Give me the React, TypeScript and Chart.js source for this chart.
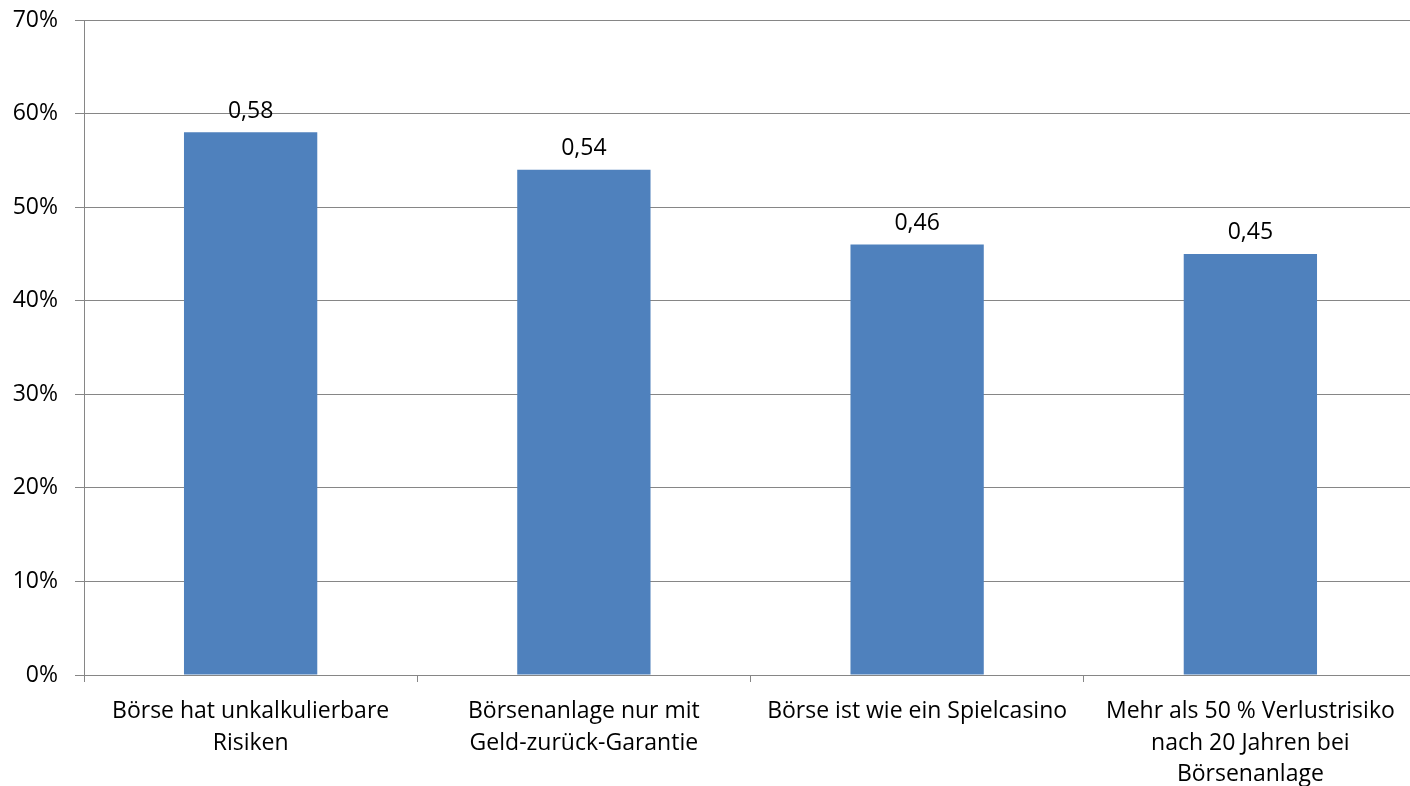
import React, { useEffect, useRef } from "react";
import { Chart, registerables } from "chart.js";

Chart.register(...registerables);

const categories: (string | string[])[] = [
  ["Börse hat unkalkulierbare", "Risiken"],
  ["Börsenanlage nur mit", "Geld-zurück-Garantie"],
  "Börse ist wie ein Spielcasino",
  ["Mehr als 50 % Verlustrisiko", "nach 20 Jahren bei", "Börsenanlage"],
];
const values: number[] = [0.58, 0.54, 0.46, 0.45];
const yTicksMin = 0;
const yTicksMax = 0.7;
const yTickStep = 0.1;

const FONT = "'Open Sans', sans-serif";
const FS = 23;
const GRID = "#868686";
const BAR = "#4F81BD";

const dataLabels = {
  id: "dataLabels",
  afterDatasetsDraw(chart: any) {
    const ctx = chart.ctx;
    const meta = chart.getDatasetMeta(0);
    ctx.save();
    ctx.font = `${FS}px ${FONT}`;
    ctx.fillStyle = "#000";
    ctx.textAlign = "center";
    ctx.textBaseline = "middle";
    meta.data.forEach((el: any, i: number) => {
      const v = chart.data.datasets[0].data[i] as number;
      ctx.fillText(v.toFixed(2).replace(".", ","), el.x, el.y - 21);
    });
    ctx.restore();
  },
};

export default function App() {
  const ref = useRef<HTMLCanvasElement>(null);
  useEffect(() => {
    if (!ref.current) return;
    const chart = new Chart(ref.current, {
      type: "bar",
      data: {
        labels: categories,
        datasets: [
          {
            data: values,
            backgroundColor: BAR,
            borderWidth: 0,
            barPercentage: 0.4,
            categoryPercentage: 1,
          },
        ],
      },
      options: {
        responsive: false,
        animation: false,
        devicePixelRatio: 1,
        layout: { padding: { top: 20, right: 1, left: 0, bottom: 0 } },
        plugins: { legend: { display: false }, tooltip: { enabled: false } },
        scales: {
          x: {
            grid: {
              display: true,
              drawOnChartArea: false,
              drawTicks: true,
              tickLength: 7,
              color: GRID,
              offset: true,
            },
            border: { display: true, color: GRID },
            ticks: {
              color: "#000",
              font: { family: FONT, size: FS, lineHeight: 1.37 },
              padding: 14,
              maxRotation: 0,
              autoSkip: false,
            },
            afterFit: (s: any) => {
              s.height = 111;
            },
          },
          y: {
            min: yTicksMin,
            max: yTicksMax,
            grid: { color: GRID, tickLength: 9, drawTicks: true },
            border: { display: true, color: GRID },
            ticks: {
              stepSize: yTickStep,
              color: "#000",
              padding: 17,
              font: { family: FONT, size: FS },
              callback: (v: any) => Math.round(Number(v) * 100) + "%",
            },
            afterFit: (s: any) => {
              s.width = 84;
              s.paddingTop = 0;
              s.paddingBottom = 0;
            },
          },
        },
      },
      plugins: [dataLabels],
    });
    return () => chart.destroy();
  }, []);
  return (
    <div
      style={{
        position: "fixed",
        left: 0,
        top: 0,
        width: 1410,
        height: 786,
        overflow: "hidden",
        background: "#fff",
      }}
    >
      <canvas ref={ref} width={1418} height={786} style={{ display: "block" }} />
    </div>
  );
}
